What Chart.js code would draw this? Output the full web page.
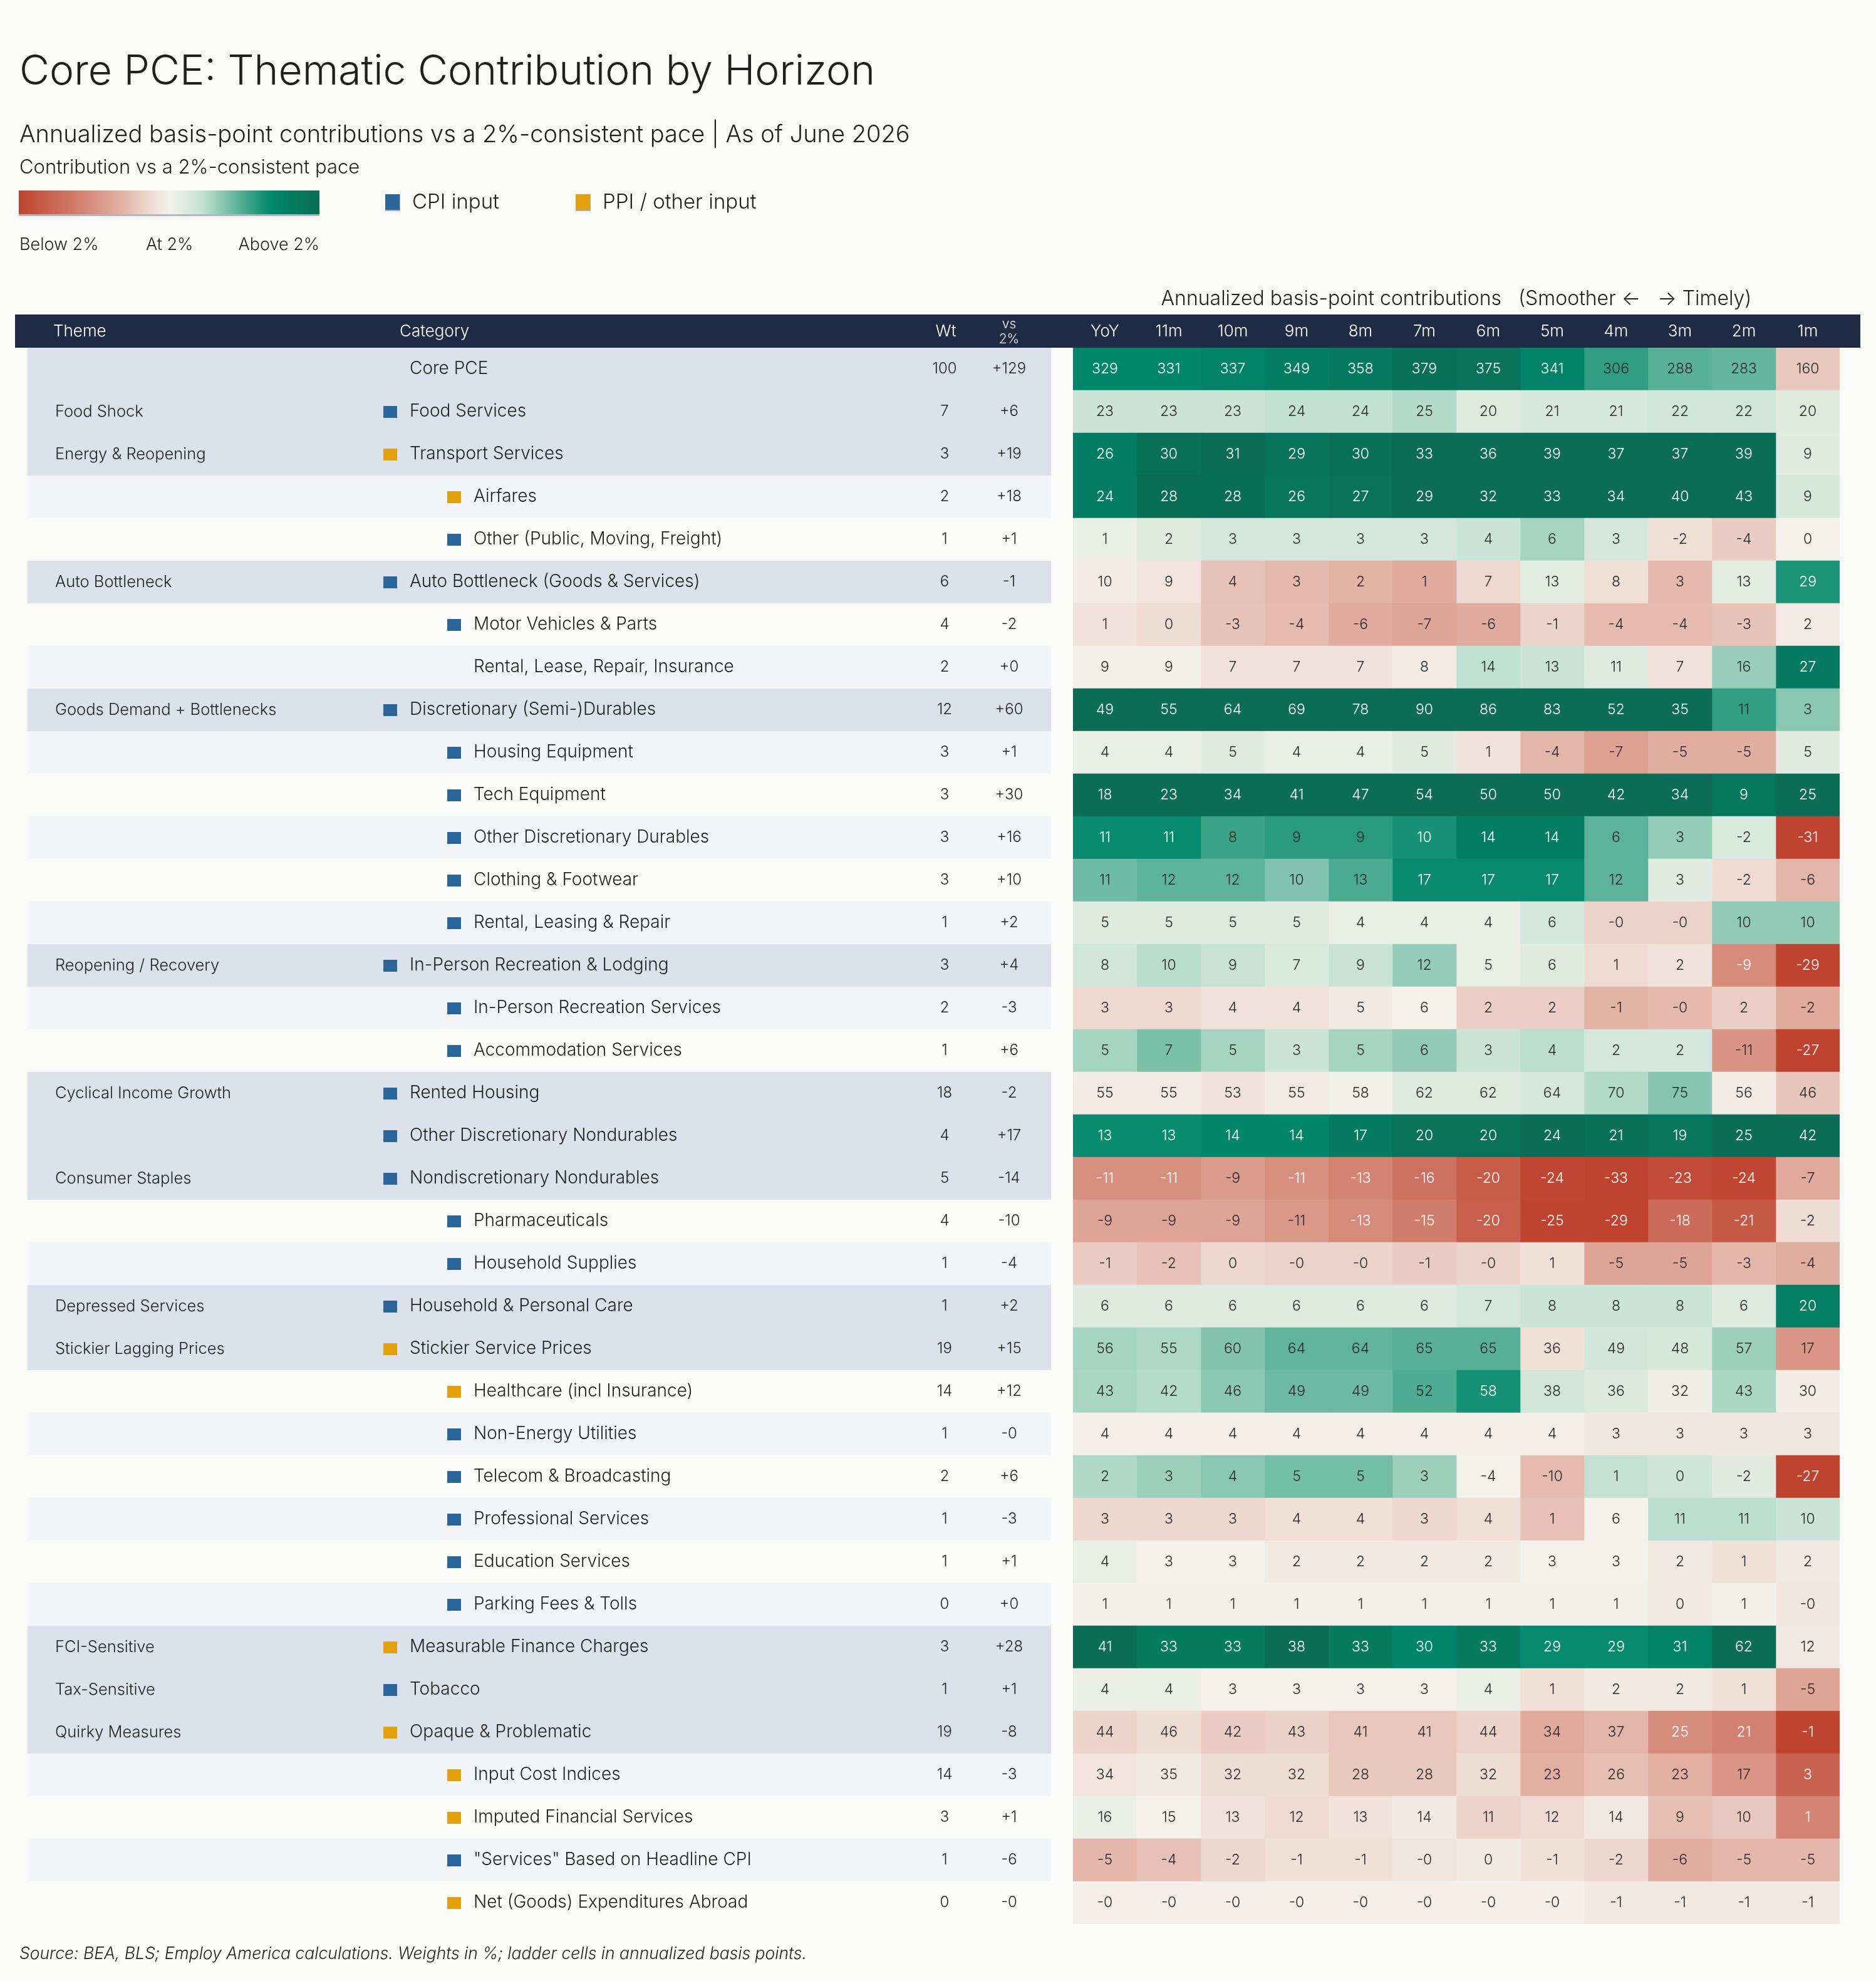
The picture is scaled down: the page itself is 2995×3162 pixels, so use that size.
<!DOCTYPE html>
<html>
<head>
<meta charset="utf-8">
<script src="https://cdn.jsdelivr.net/npm/chart.js@4.4.1/dist/chart.umd.min.js"></script>
<style>
  html, body { margin:0; padding:0; background:#fafaf8; }
  canvas { display:block; }
</style>
</head>
<body>
<canvas id="ladder" width="2995" height="3162" style="width:2995px;height:3162px"></canvas>
<script>
// horizons, left to right (smoother -> timely)
const horizons = ['YoY','11m','10m','9m','8m','7m','6m','5m','4m','3m','2m','1m'];

const categories = [
  'Core PCE','Food Services','Transport Services','Airfares','Other (Public, Moving, Freight)',
  'Auto Bottleneck (Goods & Services)','Motor Vehicles & Parts','Rental, Lease, Repair, Insurance',
  'Discretionary (Semi-)Durables','Housing Equipment','Tech Equipment','Other Discretionary Durables',
  'Clothing & Footwear','Rental, Leasing & Repair','In-Person Recreation & Lodging',
  'In-Person Recreation Services','Accommodation Services','Rented Housing',
  'Other Discretionary Nondurables','Nondiscretionary Nondurables','Pharmaceuticals',
  'Household Supplies','Household & Personal Care','Stickier Service Prices',
  'Healthcare (incl Insurance)','Non-Energy Utilities','Telecom & Broadcasting',
  'Professional Services','Education Services','Parking Fees & Tolls',
  'Measurable Finance Charges','Tobacco','Opaque & Problematic','Input Cost Indices',
  'Imputed Financial Services','"Services" Based on Headline CPI','Net (Goods) Expenditures Abroad'
];

const themes = [
  '','Food Shock','Energy & Reopening','','',
  'Auto Bottleneck','','',
  'Goods Demand + Bottlenecks','','','','','',
  'Reopening / Recovery','','',
  'Cyclical Income Growth','','Consumer Staples','','',
  'Depressed Services','Stickier Lagging Prices','','','','','','',
  'FCI-Sensitive','Tax-Sensitive','Quirky Measures','','','',''
];

// 0 = aggregate row, 1 = sub-component
const level = [0,0,0,1,1,0,1,1,0,1,1,1,1,1,0,1,1,0,0,0,1,1,0,0,1,1,1,1,1,1,0,0,0,1,1,1,1];

// price source marker
const source = ['','cpi','ppi','ppi','cpi','cpi','cpi','','cpi','cpi','cpi','cpi','cpi','cpi',
  'cpi','cpi','cpi','cpi','cpi','cpi','cpi','cpi','cpi','ppi','ppi','cpi','cpi','cpi','cpi','cpi',
  'ppi','cpi','ppi','ppi','ppi','cpi','ppi'];

const weights = [100,7,3,2,1,6,4,2,12,3,3,3,3,1,3,2,1,18,4,5,4,1,1,19,14,1,2,1,1,0,3,1,19,14,3,1,0];

const vs2 = [129,6,19,18,1,-1,-2,0.2,60,1,30,16,10,2,4,-3,6,-2,17,-14,-10,-4,2,15,12,-0.2,6,-3,1,0.2,28,1,-8,-3,1,-6,-0.2];

// annualized bp contributions, one row per category, columns follow horizons
const ladder = [
  [329,331,337,349,358,379,375,341,306,288,283,160],
  [23,23,23,24,24,25,20,21,21,22,22,20],
  [26,30,31,29,30,33,36,39,37,37,39,9],
  [24,28,28,26,27,29,32,33,34,40,43,9],
  [1,2,3,3,3,3,4,6,3,-2,-4,0],
  [10,9,4,3,2,1,7,13,8,3,13,29],
  [1,0,-3,-4,-6,-7,-6,-1,-4,-4,-3,2],
  [9,9,7,7,7,8,14,13,11,7,16,27],
  [49,55,64,69,78,90,86,83,52,35,11,3],
  [4,4,5,4,4,5,1,-4,-7,-5,-5,5],
  [18,23,34,41,47,54,50,50,42,34,9,25],
  [11,11,8,9,9,10,14,14,6,3,-2,-31],
  [11,12,12,10,13,17,17,17,12,3,-2,-6],
  [5,5,5,5,4,4,4,6,-0.3,-0.3,10,10],
  [8,10,9,7,9,12,5,6,1,2,-9,-29],
  [3,3,4,4,5,6,2,2,-1,-0.3,2,-2],
  [5,7,5,3,5,6,3,4,2,2,-11,-27],
  [55,55,53,55,58,62,62,64,70,75,56,46],
  [13,13,14,14,17,20,20,24,21,19,25,42],
  [-11,-11,-9,-11,-13,-16,-20,-24,-33,-23,-24,-7],
  [-9,-9,-9,-11,-13,-15,-20,-25,-29,-18,-21,-2],
  [-1,-2,0,-0.3,-0.3,-1,-0.3,1,-5,-5,-3,-4],
  [6,6,6,6,6,6,7,8,8,8,6,20],
  [56,55,60,64,64,65,65,36,49,48,57,17],
  [43,42,46,49,49,52,58,38,36,32,43,30],
  [4,4,4,4,4,4,4,4,3,3,3,3],
  [2,3,4,5,5,3,-4,-10,1,0,-2,-27],
  [3,3,3,4,4,3,4,1,6,11,11,10],
  [4,3,3,2,2,2,2,3,3,2,1,2],
  [1,1,1,1,1,1,1,1,1,0,1,-0.3],
  [41,33,33,38,33,30,33,29,29,31,62,12],
  [4,4,3,3,3,3,4,1,2,2,1,-5],
  [44,46,42,43,41,41,44,34,37,25,21,-1],
  [34,35,32,32,28,28,32,23,26,23,17,3],
  [16,15,13,12,13,14,11,12,14,9,10,1],
  [-5,-4,-2,-1,-1,-0.3,0,-1,-2,-6,-5,-5],
  [-0.3,-0.3,-0.3,-0.3,-0.3,-0.3,-0.3,-0.3,-1,-1,-1,-1]
];

const FONT = 'Inter, "Noto Sans", sans-serif';
const INK = '#1f1f1f';
const NAVY = '#1f2a44';
const CPI_BLUE = '#2b669a';
const PPI_GOLD = '#e1a00c';

// diverging scale: below 2% -> at 2% -> above 2%
const stops = [
  [-1,   [192,67,47]],
  [-0.64,[208,122,104]],
  [-0.32,[226,176,163]],
  [-0.12,[239,220,212]],
  [0,    [244,241,234]],
  [0.22, [197,226,213]],
  [0.45, [95,180,154]],
  [0.68, [0,135,106]],
  [1,    [11,109,85]]
];

function rampColor(t){
  t = Math.max(-1, Math.min(1, t));
  for (let k=1;k<stops.length;k++){
    if (t <= stops[k][0]){
      const a=stops[k-1], b=stops[k];
      const f=(t-a[0])/(b[0]-a[0]);
      const c=a[1].map((v,n)=>Math.round(v+(b[1][n]-v)*f));
      return 'rgb('+c.join(',')+')';
    }
  }
  return 'rgb('+stops[stops.length-1][1].join(',')+')';
}

// gap to the row's 2%-consistent pace, scaled by the row's weight
function cellT(i,j){
  var bench = ladder[i][0]-vs2[i];
  var d = ladder[i][j]-bench;
  var s = 19+1.7*weights[i];
  return Math.max(-1,Math.min(1,d/s));
}

function fmt(v){
  var r=Math.round(v);
  if (r===0 && v<0) return '-0';
  return String(r);
}
function fmtSigned(v){
  var r=Math.round(v);
  if (r===0) return v<0 ? '-0' : '+0';
  return r>0 ? '+'+r : String(r);
}

const tablePlugin = {
  id:'table',
  beforeDraw(chart){
    const ctx=chart.ctx, ca=chart.chartArea, ys=chart.scales.y, xs=chart.scales.x;
    ctx.save();
    ctx.fillStyle='#fafaf8';
    ctx.fillRect(0,0,chart.width,chart.height);

    // titles
    ctx.fillStyle=INK;
    ctx.textAlign='left';
    ctx.textBaseline='alphabetic';
    ctx.font='300 66px '+FONT;
    ctx.fillText('Core PCE: Thematic Contribution by Horizon',31,135);
    ctx.font='300 38px '+FONT;
    ctx.fillText('Annualized basis-point contributions vs a 2%-consistent pace | As of June 2026',31,227);
    ctx.font='300 31px '+FONT;
    ctx.fillText('Contribution vs a 2%-consistent pace',31,277);

    // gradient legend
    const g=ctx.createLinearGradient(30,0,510,0);
    stops.forEach(s=>g.addColorStop((s[0]+1)/2,'rgb('+s[1].join(',')+')'));
    ctx.fillStyle='#b3b8c0';
    ctx.fillRect(30,306,480,39);
    ctx.fillStyle=g;
    ctx.fillRect(30,304,480,38);
    ctx.fillStyle=INK;
    ctx.font='300 27px '+FONT;
    ctx.fillText('Below 2%',31,399);
    ctx.fillText('At 2%',233,399);
    ctx.textAlign='right';
    ctx.fillText('Above 2%',510,399);

    // source legend
    ctx.textAlign='left';
    ctx.textBaseline='middle';
    ctx.font='300 33px '+FONT;
    [[615,CPI_BLUE,'CPI input'],[919,PPI_GOLD,'PPI / other input']].forEach(it=>{
      ctx.fillStyle='#a9b0ba';
      ctx.fillRect(it[0],310,24,27);
      ctx.fillStyle=it[1];
      ctx.fillRect(it[0],310,23,25);
      ctx.fillStyle=INK;
      ctx.fillText(it[2],it[0]+43,323);
    });

    // ladder caption
    ctx.textAlign='center';
    ctx.textBaseline='alphabetic';
    ctx.font='300 32px '+FONT;
    ctx.fillText('Annualized basis-point contributions   (Smoother \u2190   \u2192 Timely)',(ca.left+ca.right)/2,ca.top-68);

    // header bar
    const hTop=ca.top-53;
    ctx.fillStyle=NAVY;
    ctx.fillRect(24,hTop,2946,53);
    ctx.fillStyle='#ffffff';
    ctx.textBaseline='middle';
    ctx.font='300 26px '+FONT;
    const hMid=hTop+27;
    ctx.textAlign='left';
    ctx.fillText('Theme',85,hMid);
    ctx.fillText('Category',638,hMid);
    ctx.textAlign='center';
    ctx.fillText('Wt',1510,hMid);
    ctx.font='300 21px '+FONT;
    ctx.fillText('vs',1611,hTop+16);
    ctx.fillText('2%',1611,hTop+40);
    ctx.font='300 26px '+FONT;
    horizons.forEach((h,j)=>ctx.fillText(h,xs.getPixelForValue(j+0.5),hMid));

    // left table rows
    const rowH=ys.getPixelForValue(1)-ys.getPixelForValue(0);
    categories.forEach((c,i)=>{
      const cy=ys.getPixelForValue(i);
      let bg=null;
      if (level[i]===0) bg='#dbe2ec';
      else if (i%2===1) bg='#f3f5f9';
      if (bg){ ctx.fillStyle=bg; ctx.fillRect(44,Math.round(cy-rowH/2),1634,Math.round(rowH)); }

      ctx.fillStyle=INK;
      ctx.textBaseline='middle';
      ctx.textAlign='left';
      if (themes[i]){
        ctx.font='300 25.5px '+FONT;
        ctx.fillText(themes[i],88,cy);
      }
      const mx = level[i]===0 ? 612 : 714;
      const tx = level[i]===0 ? 654 : 756;
      if (source[i]){
        ctx.fillStyle = source[i]==='cpi' ? CPI_BLUE : PPI_GOLD;
        ctx.fillRect(mx,cy-9,22,19);
      }
      ctx.fillStyle=INK;
      ctx.font='300 28px '+FONT;
      ctx.fillText(c,tx,cy);
      ctx.textAlign='center';
      ctx.font='300 24px '+FONT;
      ctx.fillText(String(weights[i]),1508,cy);
      ctx.fillText(fmtSigned(vs2[i]),1611,cy);
    });

    // footnote
    ctx.textAlign='left';
    ctx.textBaseline='alphabetic';
    ctx.font='italic 300 26.5px '+FONT;
    ctx.fillStyle=INK;
    ctx.fillText('Source: BEA, BLS; Employ America calculations. Weights in %; ladder cells in annualized basis points.',31,3127);
    ctx.restore();
  },
  afterDatasetsDraw(chart){
    const ctx=chart.ctx, ys=chart.scales.y, xs=chart.scales.x;
    ctx.save();
    ctx.textAlign='center';
    ctx.textBaseline='middle';
    ctx.font='300 23px '+FONT;
    ladder.forEach((row,i)=>{
      row.forEach((v,j)=>{
        const t=cellT(i,j);
        ctx.fillStyle = (t<=-0.49 || t>=0.6) ? '#ffffff' : '#2a2a2a';
        ctx.fillText(fmt(v),xs.getPixelForValue(j+0.5),ys.getPixelForValue(i));
      });
    });
    ctx.restore();
  }
};

const datasets = horizons.map((h,j)=>({
  label:h,
  data:categories.map(()=>1),
  backgroundColor:ladder.map((row,i)=>rampColor(cellT(i,j))),
  borderWidth:0,
  barPercentage:1,
  categoryPercentage:1,
  stack:'ladder'
}));

new Chart(document.getElementById('ladder'),{
  type:'bar',
  data:{ labels:categories, datasets:datasets },
  plugins:[tablePlugin],
  options:{
    indexAxis:'y',
    responsive:false,
    devicePixelRatio:1,
    animation:false,
    events:[],
    layout:{ padding:{ left:1713, right:58, top:555, bottom:91 } },
    plugins:{ legend:{display:false}, tooltip:{enabled:false}, title:{display:false} },
    scales:{
      x:{ type:'linear', stacked:true, min:0, max:12, display:false },
      y:{ type:'category', stacked:true, display:false, offset:true }
    }
  }
});
</script>
</body>
</html>
